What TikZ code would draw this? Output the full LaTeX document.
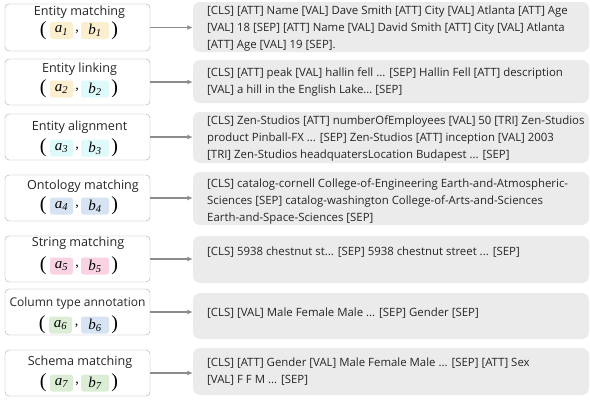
\documentclass[tikz,border=0pt]{standalone}
\usepackage{fontspec}
\setmainfont{Open Sans}
\newfontfamily\serif{Liberation Serif}
\usetikzlibrary{positioning,arrows.meta,calc}

\definecolor{hlyellow}{HTML}{FCEFCF}
\definecolor{hlcyan}{HTML}{DFFAFB}
\definecolor{hlblue}{HTML}{D5E3F2}
\definecolor{hlpink}{HTML}{F9D3E3}
\definecolor{hlgreen}{HTML}{DBEED5}
\definecolor{seqgrey}{HTML}{EBEBEB}

\tikzset{
  task/.style={draw=black!35, rounded corners=4pt, minimum width=145pt, inner sep=0pt},
  tasklabel/.style={inner sep=0pt, text=black!85, font=\fontsize{12.6}{14}\selectfont},
  hla/.style={rounded corners=2.5pt, minimum width=23pt, minimum height=17pt, inner sep=0pt, font=\serif\fontsize{15}{15}\selectfont\itshape},
  hlb/.style={hla, minimum width=28pt},
  paren/.style={inner sep=0pt, font=\serif\fontsize{20}{20}\selectfont},
  seq/.style={fill=seqgrey, rounded corners=7pt, minimum width=396pt, inner sep=0pt},
  seqtext/.style={anchor=west, align=left, inner sep=0pt, text=black!85, font=\fontsize{11.4}{17}\selectfont},
  link/.style={draw=black!45, line width=1.1pt, -{Latex[length=5.5pt,width=5pt]}}
}

\begin{document}
\begin{tikzpicture}[x=1pt,y=-1pt]
\useasboundingbox (0,0) rectangle (590,400);

\node[task, minimum height=47pt] (task1) at (77.5,27.5) {}; %task 1
\node[task, minimum height=46pt] (task2) at (77.5,82) {}; %task 2
\node[task, minimum height=46pt] (task3) at (77.5,137) {}; %task 3
\node[task, minimum height=46pt] (task4) at (77.5,198) {}; %task 4
\node[task, minimum height=46pt] (task5) at (77.5,259) {}; %task 5
\node[task, minimum height=46pt] (task6) at (77.5,312) {}; %task 6
\node[task, minimum height=46pt] (task7) at (77.5,373) {}; %task 7

\node[tasklabel] (lab1) at (79.5,12) {Entity matching};
\node[tasklabel] (lab2) at (79.5,69) {Entity linking};
\node[tasklabel] (lab3) at (79.5,127) {Entity alignment};
\node[tasklabel] (lab4) at (83,186) {Ontology matching};
\node[tasklabel] (lab5) at (78,243) {String matching};
\node[tasklabel, font=\fontsize{12}{14}\selectfont] (lab6) at (77.5,303) {Column type annotation};
\node[tasklabel] (lab7) at (80,362) {Schema matching};

% pairs
\node[hla, fill=hlyellow] (a1) at (61.5,30.5) {a\textsubscript{1}};
\node[hlb, fill=hlyellow] (b1) at (95,30.5) {b\textsubscript{1}};
\node[hla, fill=hlyellow] (a2) at (61.5,89) {a\textsubscript{2}};
\node[hlb, fill=hlcyan] (b2) at (95,89) {b\textsubscript{2}};
\node[hla, fill=hlcyan] (a3) at (61.5,148) {a\textsubscript{3}};
\node[hlb, fill=hlcyan] (b3) at (95,148) {b\textsubscript{3}};
\node[hla, fill=hlblue] (a4) at (61.5,206) {a\textsubscript{4}};
\node[hlb, fill=hlblue] (b4) at (95,206) {b\textsubscript{4}};
\node[hla, fill=hlpink] (a5) at (61.5,266) {a\textsubscript{5}};
\node[hlb, fill=hlpink] (b5) at (95,266) {b\textsubscript{5}};
\node[hla, fill=hlgreen] (a6) at (60.5,325) {a\textsubscript{6}};
\node[hlb, fill=hlblue] (b6) at (95,325) {b\textsubscript{6}};
\node[hla, fill=hlgreen] (a7) at (61.5,383) {a\textsubscript{7}};
\node[hlb, fill=hlgreen] (b7) at (95,383) {b\textsubscript{7}};

\foreach \i in {1,...,7}{
  \node[paren, left=3pt of a\i] (lp\i) {(};
  \node[paren, right=2pt of b\i] (rp\i) {)};
  \node[paren, font=\serif\fontsize{14}{14}\selectfont, anchor=north] (cm\i) at ($(a\i.east)!0.5!(b\i.west)+(0,-1)$) {,};
}

% serialized inputs
\node[seq, minimum height=50pt] (seq1) at (391,27) {};
\node[seq, minimum height=43pt] (seq2) at (391,81.5) {};
\node[seq, minimum height=51pt] (seq3) at (391,137.5) {};
\node[seq, minimum height=53pt] (seq4) at (391,198.5) {};
\node[seq, minimum height=47pt] (seq5) at (391,259.5) {};
\node[seq, minimum height=46pt] (seq6) at (391,316) {};
\node[seq, minimum height=47pt] (seq7) at (391,371.5) {};

\node[seqtext] (txt1) at (207,29) {[CLS] [ATT] Name [VAL] Dave Smith [ATT] City [VAL] Atlanta [ATT] Age\\{}[VAL] 18 [SEP] [ATT] Name [VAL] David Smith [ATT] City [VAL] Atlanta\\{}[ATT] Age [VAL] 19 [SEP].};
\node[seqtext] (txt2) at (207,82.5) {[CLS] [ATT] peak [VAL] hallin fell ... [SEP] Hallin Fell [ATT] description\\{}[VAL] a hill in the English Lake\dots\ [SEP]};
\node[seqtext] (txt3) at (207,139) {[CLS] Zen-Studios [ATT] numberOfEmployees [VAL] 50 [TRI] Zen-Studios\\ product Pinball-FX ... [SEP] Zen-Studios [ATT] inception [VAL] 2003\\{}[TRI] Zen-Studios headquatersLocation Budapest ... [SEP]};
\node[seqtext] (txt4) at (207,202) {[CLS] catalog-cornell College-of-Engineering Earth-and-Atmospheric-\\ Sciences [SEP] catalog-washington College-of-Arts-and-Sciences\\ Earth-and-Space-Sciences [SEP]};
\node[seqtext] (txt5) at (207,252) {[CLS] 5938 chestnut st... [SEP] 5938 chestnut street ... [SEP]};
\node[seqtext] (txt6) at (207,313) {[CLS] [VAL] Male Female Male ... [SEP] Gender [SEP]};
\node[seqtext] (txt7) at (207,372) {[CLS] [ATT] Gender [VAL] Male Female Male ... [SEP] [ATT] Sex\\{}[VAL] F F M ... [SEP]};

\foreach \i in {1,...,7}
  \draw[link] (task\i.east) -- (task\i.east -| seq\i.west);

\end{tikzpicture}
\end{document}
